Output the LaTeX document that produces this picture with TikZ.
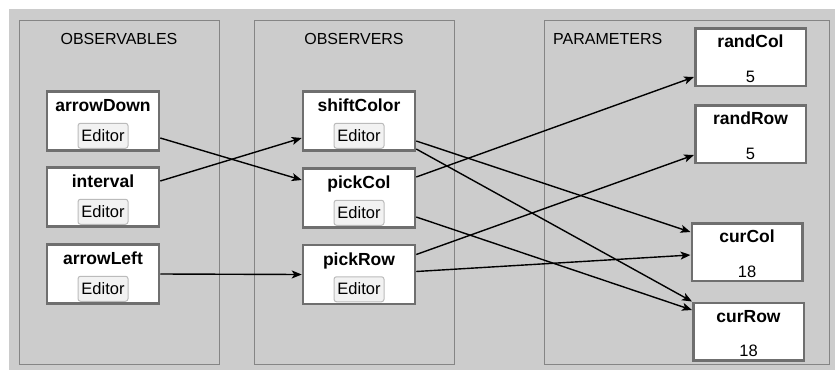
\documentclass[tikz,border=0pt]{standalone}
\usepackage{fontspec}
\setmainfont{Liberation Sans}
\usetikzlibrary{arrows.meta,calc}
\definecolor{bg}{HTML}{CCCCCC}
\definecolor{panelline}{HTML}{858585}
\definecolor{boxline}{HTML}{6F6F6F}
\definecolor{btnfill}{HTML}{F2F2F2}
\definecolor{btnline}{HTML}{BBBBBB}
\begin{document}
\begin{tikzpicture}[x=1pt,y=-1pt,
  panel/.style={draw=panelline,line width=1pt,fill=bg},
  obox/.style={draw=boxline,line width=2.5pt,fill=white,minimum width=112pt,minimum height=59pt,inner sep=0pt},
  pbox/.style={draw=boxline,line width=2.5pt,fill=white,minimum width=110.5pt,minimum height=57.5pt,inner sep=0pt},
  btitle/.style={font=\fontsize{17.5}{21}\selectfont\bfseries,inner sep=0pt,anchor=base},
  ptitle/.style={font=\fontsize{16}{20}\selectfont,inner sep=0pt,anchor=base},
  btn/.style={draw=btnline,fill=btnfill,rounded corners=2.5pt,line width=1pt,minimum width=50pt,minimum height=25pt,inner sep=0pt},
  btntext/.style={font=\fontsize{16.5}{20}\selectfont,inner sep=0pt,anchor=base},
  val/.style={font=\fontsize{16.5}{20}\selectfont,inner sep=0pt,anchor=base},
  link/.style={draw=black,line width=1.4pt,-{Stealth[length=10pt,width=8pt,inset=2.5pt]}}
]
\useasboundingbox (0,0) rectangle (835,370);
\fill[bg] (9,9) rectangle (835,370);

% panels
\draw[panel] (19,20) rectangle (219,364);
\draw[panel] (254,20) rectangle (454,364);
\draw[panel] (544,20) rectangle (829,364);
\node[ptitle] (tObservables) at (119,44) {OBSERVABLES};
\node[ptitle] (tObservers) at (354,44) {OBSERVERS};
\node[ptitle,anchor=base west] (tParameters) at (553,44) {PARAMETERS};

% observable and observer boxes
\foreach \name/\x/\y in {arrowDown/103/121, interval/103/197, arrowLeft/103/274,
                         shiftColor/359/121, pickCol/359/198, pickRow/359/274.5}{
  \node[obox] (\name) at (\x,\y) {};
  \node[btitle] (\name-title) at ($(\name.north)+(0,21.5)$) {\name};
  \node[btn] (\name-btn) at ($(\name.north)+(0,45.5)$) {};
  \node[btntext] (\name-btntext) at ($(\name.north)+(0,51)$) {Editor};
}

% parameter boxes
\foreach \name/\x/\y/\v in {randCol/750.5/57/5, randRow/750.5/134/5,
                            curCol/747/252/18, curRow/748.5/331.5/18}{
  \node[pbox] (\name) at (\x,\y) {};
  \node[btitle] (\name-title) at ($(\name.north)+(0,20.5)$) {\name};
  \node[val] (\name-val) at ($(\name.north)+(0,55)$) {\v};
}

% connectors
\draw[link] ($(arrowDown.east)+(0,17)$) -- ($(pickCol.west)+(0,-18)$);
\draw[link] ($(interval.east)+(0,-16)$) -- ($(shiftColor.west)+(0,17)$);
\draw[link] (arrowLeft.east) -- (pickRow.west);
\draw[link] ($(shiftColor.east)+(0,20)$) -- ($(curCol.west)+(0,-20)$);
\draw[link] ($(shiftColor.east)+(0,28)$) -- (curRow.north west);
\draw[link] ($(pickCol.east)+(0,-21)$) -- ($(randCol.west)+(0,20)$);
\draw[link] ($(pickCol.east)+(0,19)$) -- ($(curRow.west)+(0,-21.5)$);
\draw[link] ($(pickRow.east)+(0,-20)$) -- ($(randRow.west)+(0,21)$);
\draw[link] ($(pickRow.east)+(0,-3)$) -- ($(curCol.west)+(0,3)$);
\end{tikzpicture}
\end{document}
